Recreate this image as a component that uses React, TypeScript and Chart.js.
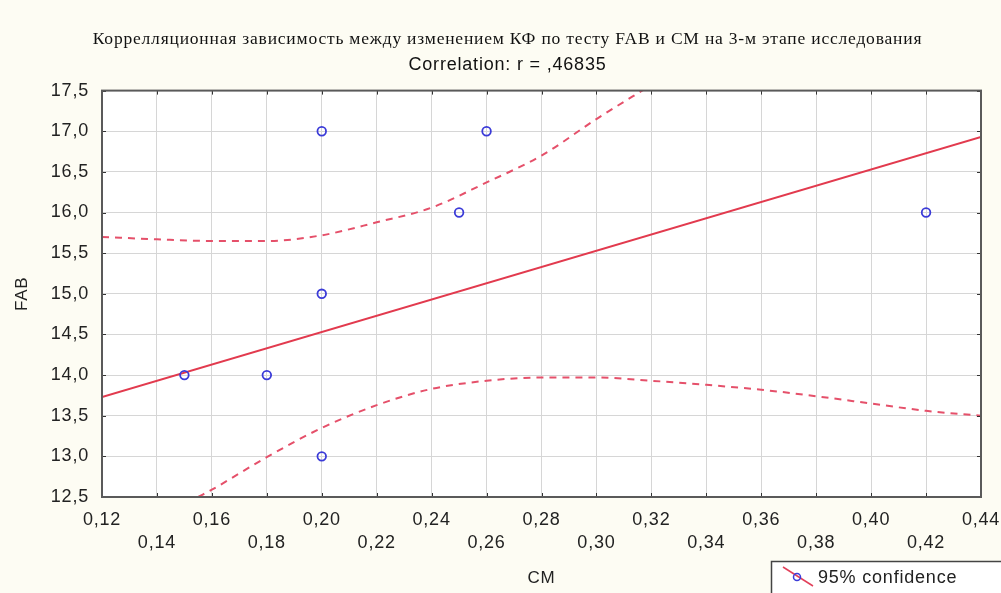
import React, { useEffect, useRef } from "react";
import { Chart, registerables } from "chart.js";

Chart.register(...registerables);

// Observed data
const cmValues = [0.15, 0.18, 0.2, 0.2, 0.2, 0.25, 0.26, 0.42];
const fabValues = [14, 14, 17, 15, 13, 16, 17, 16];

// Regression line
const fitX = [0.12, 0.44];
const fitY = [13.73, 16.93];

// 95% confidence band
const upperX = [0.12, 0.14, 0.16, 0.18, 0.2, 0.22, 0.24, 0.26, 0.28, 0.3, 0.32];
const upperY = [15.7, 15.67, 15.65, 15.65, 15.72, 15.88, 16.06, 16.37, 16.7, 17.15, 17.57];
const lowerX = [0.155, 0.16, 0.18, 0.2, 0.22, 0.24, 0.26, 0.28, 0.3, 0.32, 0.34, 0.36, 0.38, 0.4, 0.42, 0.44];
const lowerY = [12.5, 12.59, 12.99, 13.35, 13.63, 13.83, 13.93, 13.97, 13.97, 13.93, 13.88, 13.82, 13.74, 13.65, 13.56, 13.5];

const titleText = "Коррелляционная зависимость между изменением КФ по тесту FAB и CM на 3-м этапе исследования";
const subtitleText = "Correlation: r = ,46835";
const xTitle = "CM";
const yTitle = "FAB";
const legendText = "95% confidence";

const xMin = 0.12, xMax = 0.44, xStep = 0.02;
const yMin = 12.5, yMax = 17.5, yStep = 0.5;

const zip = (xs: number[], ys: number[]) => xs.map((x, i) => ({ x, y: ys[i] }));

const SANS = "'Liberation Sans', Arial, sans-serif";

const framePlugin = {
  id: "frame",
  beforeDraw(chart: any) {
    const { ctx, chartArea: a, width, height } = chart;
    ctx.save();
    ctx.fillStyle = "#fdfcf3";
    ctx.fillRect(0, 0, width, height);
    ctx.fillStyle = "#ffffff";
    ctx.fillRect(a.left, a.top, a.right - a.left, a.bottom - a.top);
    ctx.restore();
    (ctx as any).letterSpacing = "0.8px";
  },
  afterDraw(chart: any) {
    const { ctx, chartArea: a, scales } = chart;
    const xs = scales.x, ys = scales.y;
    ctx.save();
    ctx.strokeStyle = "#333";
    ctx.lineWidth = 1;
    ctx.beginPath();
    xs.ticks.forEach((t: any) => {
      const px = Math.round(xs.getPixelForValue(t.value)) + 0.5;
      ctx.moveTo(px, a.bottom); ctx.lineTo(px, a.bottom - 4);
      ctx.moveTo(px, a.top); ctx.lineTo(px, a.top + 4);
    });
    ys.ticks.forEach((t: any) => {
      const py = Math.round(ys.getPixelForValue(t.value)) + 0.5;
      ctx.moveTo(a.left, py); ctx.lineTo(a.left + 4, py);
      ctx.moveTo(a.right, py); ctx.lineTo(a.right - 4, py);
    });
    ctx.stroke();
    ctx.strokeStyle = "#5a5a5a";
    ctx.lineWidth = 2;
    ctx.strokeRect(a.left, a.top, a.right - a.left, a.bottom - a.top);

    // legend
    const lx = 771, ly = 561, lw = 240, lh = 34;
    ctx.fillStyle = "#ffffff";
    ctx.fillRect(lx, ly, lw, lh);
    ctx.strokeStyle = "#444";
    ctx.lineWidth = 1.5;
    ctx.strokeRect(lx + 0.5, ly + 0.5, lw, lh);
    ctx.strokeStyle = "#e2405a";
    ctx.lineWidth = 1.5;
    ctx.beginPath();
    ctx.moveTo(783, 567);
    ctx.lineTo(813, 586);
    ctx.stroke();
    ctx.strokeStyle = "#3b3bd8";
    ctx.lineWidth = 1.5;
    ctx.beginPath();
    ctx.arc(797, 577, 3.5, 0, Math.PI * 2);
    ctx.stroke();
    ctx.fillStyle = "#222";
    ctx.font = "18px " + SANS;
    (ctx as any).letterSpacing = "0.8px";
    ctx.textBaseline = "middle";
    ctx.textAlign = "left";
    ctx.fillText(legendText, 818, 578);
    ctx.restore();
  },
};

export default function App() {
  const ref = useRef<HTMLCanvasElement>(null);
  useEffect(() => {
    if (!ref.current) return;
    const chart = new Chart(ref.current, {
      type: "scatter",
      data: {
        datasets: [
          {
            label: "points",
            data: zip(cmValues, fabValues),
            showLine: false,
            pointStyle: "circle",
            pointRadius: 4.3,
            pointBorderWidth: 1.8,
            pointBorderColor: "#3b3bd8",
            pointBackgroundColor: "rgba(255,255,255,0)",
          },
          {
            label: "fit",
            data: zip(fitX, fitY),
            showLine: true,
            borderColor: "#e23a4e",
            borderWidth: 2,
            pointRadius: 0,
          },
          {
            label: "upper",
            data: zip(upperX, upperY),
            showLine: true,
            borderColor: "#e5506a",
            borderWidth: 2,
            borderDash: [7, 6],
            pointRadius: 0,
            cubicInterpolationMode: "monotone",
            clip: 0,
          },
          {
            label: "lower",
            data: zip(lowerX, lowerY),
            showLine: true,
            borderColor: "#e5506a",
            borderWidth: 2,
            borderDash: [7, 6],
            pointRadius: 0,
            cubicInterpolationMode: "monotone",
            clip: 0,
          },
        ] as any,
      },
      options: {
        animation: false,
        responsive: true,
        maintainAspectRatio: false,
        layout: { padding: { left: 34, right: 20, top: 0, bottom: 0 } },
        plugins: {
          legend: { display: false },
          tooltip: { enabled: false },
          title: {
            display: true,
            text: titleText,
            color: "#111",
            font: { family: "'Liberation Serif', 'Times New Roman', serif", size: 17.5, weight: "normal" },
            padding: { top: 29, bottom: 2 },
          },
          subtitle: {
            display: true,
            text: subtitleText,
            color: "#111",
            font: { family: SANS, size: 18 },
            padding: { top: 2, bottom: 15 },
          },
        },
        scales: {
          x: {
            type: "linear",
            min: xMin,
            max: xMax,
            afterFit: (s: any) => { s.height = 96; s.paddingRight = 0; s.paddingLeft = 0; },
            border: { display: false },
            grid: { color: "#d6d6d6", lineWidth: 1, drawTicks: false },
            ticks: {
              stepSize: xStep,
              autoSkip: false,
              maxRotation: 0,
              padding: 11,
              color: "#222",
              font: { family: SANS, size: 18, lineHeight: 1.3 },
              callback: (v: any, i: number) => {
                const s = Number(v).toFixed(2).replace(".", ",");
                return i % 2 === 0 ? s : ["", s];
              },
            },
            title: {
              display: true,
              text: xTitle,
              color: "#222",
              font: { family: SANS, size: 17 },
              padding: { top: 0, bottom: 4 },
            },
          },
          y: {
            type: "linear",
            min: yMin,
            max: yMax,
            afterFit: (s: any) => { s.width = 68; },
            border: { display: false },
            grid: { color: "#d6d6d6", lineWidth: 1, drawTicks: false },
            ticks: {
              stepSize: yStep,
              padding: 13,
              color: "#222",
              font: { family: SANS, size: 18 },
              callback: (v: any) => Number(v).toFixed(1).replace(".", ","),
            },
            title: {
              display: true,
              text: yTitle,
              color: "#222",
              font: { family: SANS, size: 17 },
              padding: { top: -22, bottom: 0 },
            },
          },
        },
      } as any,
      plugins: [framePlugin],
    });
    return () => chart.destroy();
  }, []);
  return (
    <div style={{ position: "absolute", left: 0, top: 0, width: 1001, height: 593, background: "#fdfcf3" }}>
      <canvas ref={ref} />
    </div>
  );
}
